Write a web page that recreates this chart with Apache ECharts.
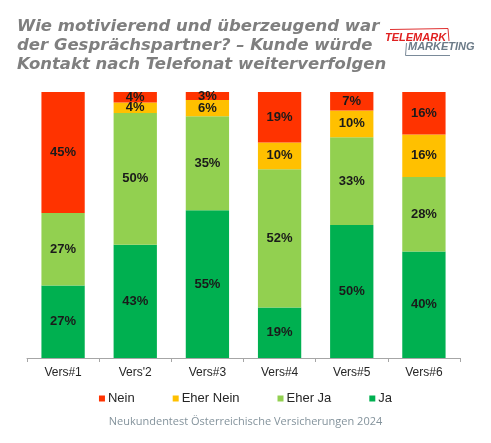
<!DOCTYPE html>
<html><head><meta charset="utf-8">
<script src="https://cdn.jsdelivr.net/npm/echarts@6/dist/echarts.min.js"></script>
<style>html,body{margin:0;padding:0;background:#fff}#c{width:491px;height:443px}</style>
</head><body><div id="c"></div>
<script>
const categories = ["Vers#1", "Vers'2", "Vers#3", "Vers#4", "Vers#5", "Vers#6"];
const seriesNames = ["Nein", "Eher Nein", "Eher Ja", "Ja"];
const nein     = [45, 4, 3, 19, 7, 16];
const eherNein = [0, 4, 6, 10, 10, 16];
const eherJa   = [27, 50, 35, 52, 33, 28];
const ja       = [27, 43, 55, 19, 50, 40];
const colors = {"Nein": "#FF3300", "Eher Nein": "#FFC000", "Eher Ja": "#92D050", "Ja": "#00B050"};

const raw = {"Ja": ja, "Eher Ja": eherJa, "Eher Nein": eherNein, "Nein": nein};
const totals = categories.map((_, i) => ja[i] + eherJa[i] + eherNein[i] + nein[i]);

const stackOrder = ["Ja", "Eher Ja", "Eher Nein", "Nein"];
const series = stackOrder.map(name => ({
  name: name,
  type: 'bar',
  stack: 'all',
  barWidth: '60%',
  itemStyle: {color: colors[name]},
  data: raw[name].map((v, i) => ({value: v / totals[i] * 100, raw: v})),
  label: {
    show: true, position: 'inside',
    fontFamily: 'Liberation Sans, Arial, sans-serif', fontWeight: 'bold', fontSize: 13, color: '#1a1a1a',
    formatter: p => p.data.raw > 0 ? p.data.raw + '%' : ''
  }
}));

const chart = echarts.init(document.getElementById('c'), null, {renderer: 'canvas'});
chart.setOption({
  backgroundColor: '#ffffff',
  animation: false,
  grid: {left: 27, right: 31, top: 92, bottom: 85, containLabel: false},
  xAxis: {
    type: 'category', data: categories,
    axisLine: {lineStyle: {color: '#a6a6a6'}},
    axisTick: {show: true, length: 4, lineStyle: {color: '#a6a6a6'}},
    axisLabel: {fontFamily: 'Liberation Sans, Arial, sans-serif', fontSize: 12, color: '#262626', margin: 9}
  },
  yAxis: {type: 'value', min: 0, max: 100, show: false},
  legend: {
    data: seriesNames, bottom: 33, left: 'center',
    itemWidth: 6, itemHeight: 6, itemGap: 38, icon: 'rect',
    textStyle: {fontFamily: 'Liberation Sans, Arial, sans-serif', fontSize: 13, color: '#262626', padding: [0, 0, 0, -2]}
  },
  series: series,
  graphic: [
    {type: 'text', left: 17, top: 17, style: {
      text: 'Wie motivierend und überzeugend war\nder Gesprächspartner? – Kunde würde\nKontakt nach Telefonat weiterverfolgen',
      font: 'italic bold 16.5px "DejaVu Sans", Verdana, sans-serif', fill: '#7f7f7f', lineHeight: 19
    }},
    {type: 'text', left: 'center', top: 416, style: {
      text: 'Neukundentest Österreichische Versicherungen 2024',
      font: '11px "Open Sans", sans-serif', fill: '#84939c'
    }},
    {type: 'polyline', shape: {points: [[390, 29.5], [448, 28.5], [449, 41]]}, style: {stroke: '#e03030', lineWidth: 1, fill: null}},
    {type: 'polyline', shape: {points: [[406.5, 43], [405.5, 55.5], [450, 55.5]]}, style: {stroke: '#7a8a99', lineWidth: 1, fill: null}},
    {type: 'text', left: 385, top: 32, style: {text: 'TELEMARK', font: 'italic bold 11px "Liberation Sans", Arial, sans-serif', fill: '#e02020'}},
    {type: 'text', left: 408, top: 41, style: {text: 'MARKETING', font: 'italic bold 11px "Liberation Sans", Arial, sans-serif', fill: '#6c7b88'}}
  ]
});
</script></body></html>
